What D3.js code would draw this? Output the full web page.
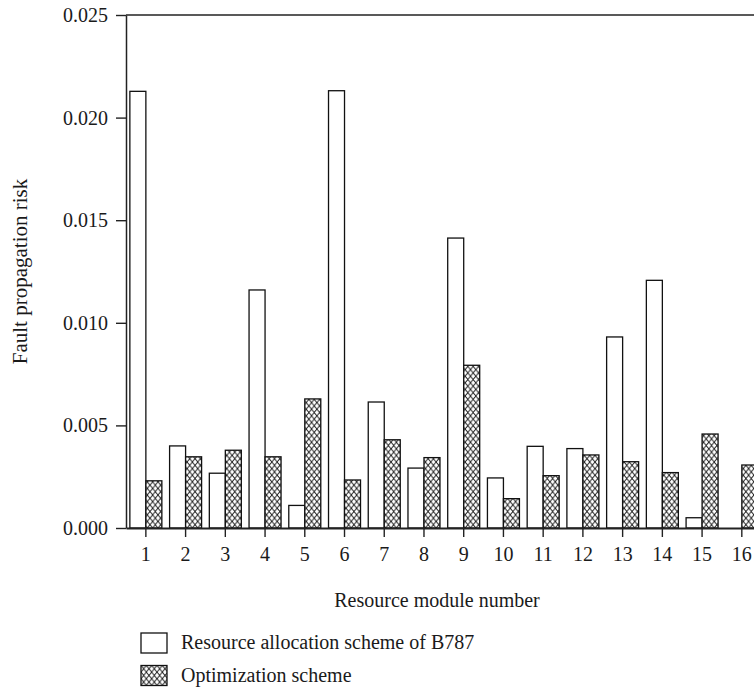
<!DOCTYPE html>
<html>
<head>
<meta charset="utf-8">
<script src="https://cdn.jsdelivr.net/npm/d3@7/dist/d3.min.js"></script>
<style>
  html, body { margin: 0; padding: 0; background: #fff; overflow: hidden; }
  svg { display: block; }
  text { font-family: "Liberation Serif", "Times New Roman", serif; fill: #1a1a1a; }
</style>
</head>
<body>
<svg id="chart" width="754" height="690"></svg>
<script>
const categories = ["1","2","3","4","5","6","7","8","9","10","11","12","13","14","15","16"];
const seriesNames = ["Resource allocation scheme of B787", "Optimization scheme"];
const b787Values = [0.02128, 0.0040, 0.00267, 0.0116, 0.0011, 0.02131, 0.00614, 0.00292, 0.01413, 0.00244, 0.00398, 0.00387, 0.00931, 0.01207, 0.0005, 0.0];
const optValues  = [0.0023, 0.00347, 0.00379, 0.00347, 0.00629, 0.00234, 0.0043, 0.00343, 0.00793, 0.00143, 0.00255, 0.00356, 0.00323, 0.00270, 0.00458, 0.00307];
const yTicks = [0, 0.005, 0.010, 0.015, 0.020, 0.025];

(function () {
const svg = d3.select("#chart");
const mLeft = 126, mTop = 15, mBottom = 528, step = 39.73;
const mRight = mLeft + step * categories.length;
const FS = 20;

const pw = 5.33, ph = 6.6;
const defs = svg.append("defs");
const pat = defs.append("pattern")
  .attr("id", "xhatch").attr("patternUnits", "userSpaceOnUse")
  .attr("width", pw).attr("height", ph);
pat.append("rect").attr("width", pw).attr("height", ph).attr("fill", "#fff");
pat.append("path").attr("d", `M0,0L${pw},${ph}M${pw},0L0,${ph}`)
  .attr("stroke", "#111").attr("stroke-width", 0.9);

const x = d3.scaleBand().domain(categories).range([mLeft, mRight]).paddingInner(0).paddingOuter(0);
const xSub = d3.scaleBand().domain(seriesNames).range([x.bandwidth() / 2 - 16, x.bandwidth() / 2 + 16]);
const y = d3.scaleLinear().domain([0, 0.025]).range([mBottom, mTop]);

const data = categories.map((c, i) => ({ cat: c, vals: [b787Values[i], optValues[i]] }));

// bars
const groups = svg.append("g").selectAll("g").data(data).join("g")
  .attr("transform", d => `translate(${x(d.cat)},0)`);
groups.selectAll("rect").data(d => d.vals.map((v, k) => ({ v, s: seriesNames[k], k })))
  .join("rect")
  .attr("x", d => xSub(d.s))
  .attr("width", xSub.bandwidth())
  .attr("y", d => y(d.v))
  .attr("height", d => y(0) - y(d.v))
  .attr("fill", d => d.k === 0 ? "#fff" : "url(#xhatch)")
  .attr("stroke", "#111").attr("stroke-width", 1.3);

// axes
const yAxis = svg.append("g").attr("transform", `translate(${mLeft},0)`)
  .call(d3.axisLeft(y).tickValues(yTicks).tickFormat(d3.format(".3f")).tickSize(10).tickPadding(8).tickSizeOuter(0));
const xAxis = svg.append("g").attr("transform", `translate(0,${mBottom})`)
  .call(d3.axisBottom(x).tickSize(9).tickPadding(10).tickSizeOuter(0));
[yAxis, xAxis].forEach(a => {
  a.attr("font-family", "Liberation Serif").attr("font-size", FS);
  a.selectAll("path.domain").attr("stroke", "#222").attr("stroke-width", 1.5);
  a.selectAll(".tick line").attr("stroke", "#222").attr("stroke-width", 1.4);
  a.selectAll(".tick text").attr("fill", "#1a1a1a");
});
xAxis.select("path.domain").attr("stroke-width", 2.2);
// top frame line
svg.append("line").attr("x1", mLeft).attr("x2", mRight).attr("y1", y(0.025)).attr("y2", y(0.025))
  .attr("stroke", "#222").attr("stroke-width", 1.5);

// axis titles
svg.append("text").attr("x", 437).attr("y", 607).attr("text-anchor", "middle")
  .attr("font-size", FS).text("Resource module number");
svg.append("text").attr("transform", `translate(27,${(mTop + mBottom) / 2}) rotate(-90)`)
  .attr("text-anchor", "middle").attr("font-size", 21).text("Fault propagation risk");

// legend
const legend = svg.append("g").selectAll("g").data(seriesNames).join("g")
  .attr("transform", (d, i) => `translate(141,${633 + i * 32.5})`);
legend.append("rect").attr("width", 26).attr("height", 20)
  .attr("fill", (d, i) => i === 0 ? "#fff" : "url(#xhatch)")
  .attr("stroke", "#111").attr("stroke-width", 1.3);
legend.append("text").attr("x", 40).attr("y", 16).attr("font-size", FS).text(d => d);
})();
</script>
</body>
</html>
